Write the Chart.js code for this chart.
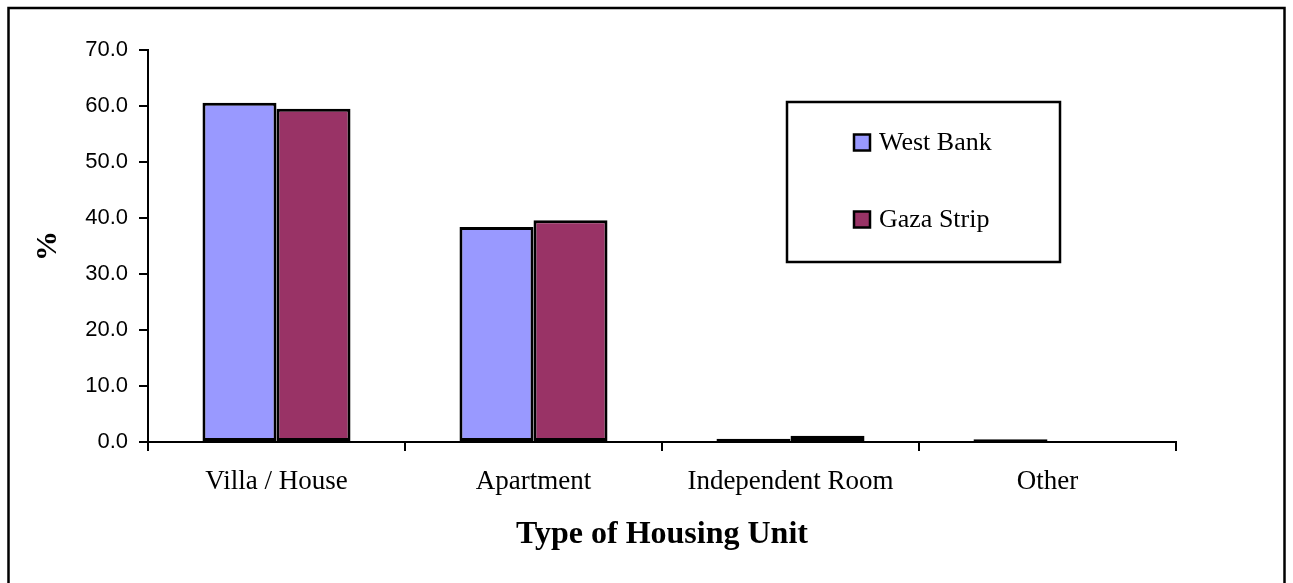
<!DOCTYPE html>
<html>
<head>
<meta charset="utf-8">
<script src="https://cdn.jsdelivr.net/npm/chart.js@4"></script>
<style>
  html, body { margin: 0; padding: 0; background: #fff; }
  #wrap { width: 1293px; height: 583px; }
</style>
</head>
<body>
<div id="wrap"><canvas id="housingChart" width="1293" height="583"></canvas></div>
<script>
const categories = ['Villa / House', 'Apartment', 'Independent Room', 'Other'];
const westBank = [60.6, 38.4, 0.6, 0.5];
const gazaStrip = [59.5, 39.6, 1.1, 0.0];
const seriesNames = ['West Bank', 'Gaza Strip'];
const yTicks = [0, 10, 20, 30, 40, 50, 60, 70];

const serif = "'Liberation Serif', 'Times New Roman', serif";
const sans = "'Liberation Sans', Arial, sans-serif";

// outer frame round the whole chart
const framePlugin = {
  id: 'frame',
  afterDraw(chart) {
    const ctx = chart.ctx;
    ctx.save();
    ctx.strokeStyle = '#000';
    ctx.lineWidth = 2.5;
    ctx.strokeRect(8.5, 8, 1276, 600);
    ctx.restore();
  }
};

// boxed legend inside the plot, like the original
const boxLegend = {
  id: 'boxLegend',
  afterDatasetsDraw(chart) {
    const ctx = chart.ctx;
    ctx.save();
    ctx.fillStyle = '#fff';
    ctx.fillRect(787, 102, 273, 160);
    ctx.strokeStyle = '#000';
    ctx.lineWidth = 2.5;
    ctx.strokeRect(787, 102, 273, 160);
    const rows = [142.5, 219.5];
    chart.data.datasets.forEach((ds, i) => {
      const y = rows[i];
      ctx.fillStyle = ds.backgroundColor;
      ctx.fillRect(854, y - 8, 16, 16);
      ctx.lineWidth = 2.5;
      ctx.strokeStyle = '#000';
      ctx.strokeRect(854, y - 8, 16, 16);
      ctx.fillStyle = '#000';
      ctx.font = '26px ' + serif;
      ctx.textBaseline = 'middle';
      ctx.textAlign = 'left';
      ctx.fillText(ds.label, 879, y + 1);
    });
    ctx.restore();
  }
};

const ctx = document.getElementById('housingChart').getContext('2d');
new Chart(ctx, {
  type: 'bar',
  data: {
    labels: categories,
    datasets: [
      {
        label: seriesNames[0],
        data: westBank,
        backgroundColor: '#9999FF',
        borderColor: '#000',
        borderWidth: 3,
        borderSkipped: false
      },
      {
        label: seriesNames[1],
        data: gazaStrip,
        backgroundColor: '#993366',
        borderColor: '#000',
        borderWidth: 3,
        borderSkipped: false
      }
    ]
  },
  options: {
    responsive: false,
    animation: false,
    devicePixelRatio: 1,
    categoryPercentage: 0.576,
    barPercentage: 1.0,
    layout: { padding: { left: 0, top: 50, right: 117, bottom: 0 } },
    plugins: {
      legend: { display: false },
      tooltip: { enabled: false }
    },
    scales: {
      x: {
        grid: {
          display: true,
          drawOnChartArea: false,
          drawTicks: true,
          tickLength: 9,
          color: '#000',
          lineWidth: 2,
          offset: true
        },
        border: { display: true, color: '#000', width: 2 },
        ticks: {
          color: '#000',
          padding: 15,
          maxRotation: 0,
          font: { family: serif, size: 27 }
        },
        title: {
          display: true,
          text: 'Type of Housing Unit',
          color: '#000',
          padding: { top: 0, bottom: 29 },
          font: { family: serif, size: 32, weight: 'bold' }
        },
        afterFit(scale) { scale.height = 141; }
      },
      y: {
        min: 0,
        max: 70,
        afterBuildTicks(scale) { scale.ticks = yTicks.map(v => ({ value: v })); },
        grid: {
          display: true,
          drawOnChartArea: false,
          drawTicks: true,
          tickLength: 9,
          color: '#000',
          lineWidth: 2
        },
        border: { display: true, color: '#000', width: 2 },
        ticks: {
          color: '#000',
          padding: 11,
          font: { family: sans, size: 22 },
          callback: v => Number(v).toFixed(1)
        },
        title: {
          display: true,
          text: '%',
          color: '#000',
          padding: { top: 30, bottom: 0 },
          font: { family: serif, size: 30, weight: 'bold' }
        },
        afterFit(scale) { scale.width = 148; }
      }
    }
  },
  plugins: [boxLegend, framePlugin]
});
</script>
</body>
</html>
